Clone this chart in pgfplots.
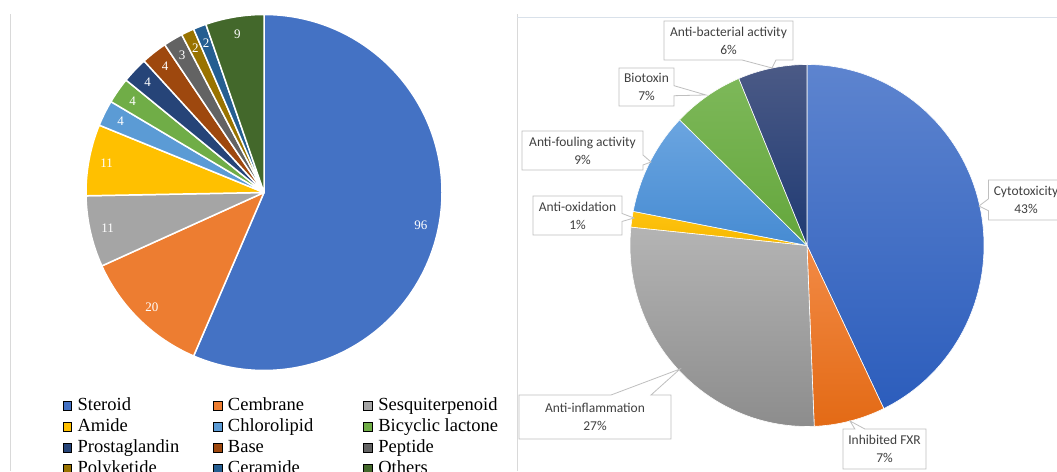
\documentclass[border=0pt]{standalone}
\usepackage{fontspec}
\setmainfont{Liberation Serif}
\newfontfamily\calibri{Carlito}
\usepackage{pgfplots}
\usepackage{pgfplotstable}
\pgfplotsset{compat=1.18}
\usetikzlibrary{shapes.callouts}

% left pie colours
\definecolor{cSteroid}{HTML}{4472C4}
\definecolor{cCembrane}{HTML}{ED7D31}
\definecolor{cSesq}{HTML}{A5A5A5}
\definecolor{cAmide}{HTML}{FFC000}
\definecolor{cChloro}{HTML}{5B9BD5}
\definecolor{cBicyc}{HTML}{70AD47}
\definecolor{cProst}{HTML}{264478}
\definecolor{cBase}{HTML}{9E480E}
\definecolor{cPept}{HTML}{636363}
\definecolor{cPoly}{HTML}{997300}
\definecolor{cCeram}{HTML}{255E91}
\definecolor{cOthers}{HTML}{43682B}
% right pie gradient colours
\definecolor{cytT}{HTML}{5D84CF}\definecolor{cytB}{HTML}{2C5DBC}
\definecolor{fxrT}{HTML}{F28A45}\definecolor{fxrB}{HTML}{E36A15}
\definecolor{infT}{HTML}{B4B4B4}\definecolor{infB}{HTML}{8C8C8C}
\definecolor{oxiT}{HTML}{FFC310}\definecolor{oxiB}{HTML}{F5B800}
\definecolor{fouT}{HTML}{6BA5E0}\definecolor{fouB}{HTML}{468BD2}
\definecolor{bioT}{HTML}{7DB859}\definecolor{bioB}{HTML}{64A63C}
\definecolor{bacT}{HTML}{4B5A86}\definecolor{bacB}{HTML}{1F3A73}
\definecolor{frameGray}{HTML}{D9D9D9}
\definecolor{frameBlue}{HTML}{D9E1EA}
\definecolor{lblgray}{HTML}{BFBFBF}
\definecolor{lbltext}{HTML}{404040}

\pgfplotstableread{
name value color
Steroid 96 cSteroid
Cembrane 20 cCembrane
Sesquiterpenoid 11 cSesq
Amide 11 cAmide
Chlorolipid 4 cChloro
{Bicyclic lactone} 4 cBicyc
Prostaglandin 4 cProst
Base 4 cBase
Peptide 3 cPept
Polyketide 2 cPoly
Ceramide 2 cCeram
Others 9 cOthers
}\leftdata

\pgfplotstableread{
name value top bottom
Cytotoxicity 42.9 cytT cytB
{Inhibited FXR} 6.5 fxrT fxrB
Anti-inflammation 27.3 infT infB
Anti-oxidation 1.4 oxiT oxiB
{Anti-fouling activity} 9.2 fouT fouB
Biotoxin 6.5 bioT bioB
{Anti-bacterial activity} 6.3 bacT bacB
}\rightdata

\pgfplotsset{sqlegend/.style={legend image code/.code={\fill[##1] (0pt,-4pt) rectangle (8.5pt,4.5pt);}}}
\tikzset{callbox/.style={rectangle callout, draw=lblgray, line width=0.8pt, fill=white,
  inner sep=0pt, align=center, text=lbltext, font=\calibri\fontsize{13.5}{18}\selectfont}}

\newcommand\pietotal[1]{%
  \pgfplotstablegetrowsof{#1}\pgfmathtruncatemacro\nrows{\pgfplotsretval-1}%
  \gdef\pietot{0}%
  \foreach \i in {0,...,\nrows}{%
    \pgfplotstablegetelem{\i}{value}\of#1%
    \pgfmathsetmacro\tmp{\pietot+\pgfplotsretval}\xdef\pietot{\tmp}}%
  \gdef\piecum{0}%
}

\begin{document}
\begin{tikzpicture}
\path[use as bounding box] (0,0) rectangle (1057pt,471pt);
\clip (0,0) rectangle (1057pt,471pt);
\draw[frameGray, line width=1pt] (10pt,0) -- (10pt,457pt);
\draw[frameGray, line width=1pt] (517pt,0) -- (517pt,457pt);
\draw[frameBlue, line width=1pt] (517pt,453pt) -- (1057pt,453pt);

% ---------------- left pie ----------------
\begin{axis}[at={(264pt,278.5pt)}, anchor=center, x=178pt, y=178pt,
  xmin=-1, xmax=1, ymin=-1, ymax=1, hide axis, clip=false,
  legend columns=3, legend cell align=left,
  legend style={at={(-0.0655,-0.0744)}, anchor=north west, draw=none, fill=none,
    inner sep=0pt, outer sep=0pt, font=\fontsize{18.5}{21}\selectfont,
    column sep=0pt, row sep=3pt,
    nodes={inner sep=0pt, text height=14pt, text depth=4pt},
    /tikz/every odd column/.append style={column sep=6pt}}]
\pgfplotsextra{%
  \pietotal{\leftdata}%
  \foreach \i in {0,...,\nrows}{%
    \pgfplotstablegetelem{\i}{value}\of\leftdata \let\sV\pgfplotsretval
    \pgfplotstablegetelem{\i}{color}\of\leftdata \let\sC\pgfplotsretval
    \pgfmathsetmacro\fA{\piecum/\pietot}%
    \pgfmathsetmacro\fB{(\piecum+\sV)/\pietot}%
    \pgfmathsetmacro\sA{90-360*\fA}%
    \pgfmathsetmacro\sB{90-360*\fB}%
    \pgfmathsetmacro\sM{(\sA+\sB)/2}%
    \pgfmathsetmacro\xA{cos(\sA)}\pgfmathsetmacro\yA{sin(\sA)}%
    \pgfmathsetmacro\xM{0.9*cos(\sM)}\pgfmathsetmacro\yM{0.9*sin(\sM)}%
    \filldraw[fill=\sC, draw=white, line width=1.5pt, line join=round]
      (axis cs:0,0) -- (axis cs:\xA,\yA) arc[start angle=\sA, end angle=\sB, radius=178pt] -- cycle;
    \node[text=white, font=\fontsize{13}{13}\selectfont] at (axis cs:\xM,\yM) {\sV};
    \pgfmathsetmacro\tmp{\piecum+\sV}\xdef\piecum{\tmp}%
  }%
}
\addlegendimage{sqlegend, fill=cSteroid}\addlegendentry{\makebox[135.5pt][l]{Steroid}}
\addlegendimage{sqlegend, fill=cCembrane}\addlegendentry{\makebox[135.5pt][l]{Cembrane}}
\addlegendimage{sqlegend, fill=cSesq}\addlegendentry{\makebox[135.5pt][l]{Sesquiterpenoid}}
\addlegendimage{sqlegend, fill=cAmide}\addlegendentry{\makebox[135.5pt][l]{Amide}}
\addlegendimage{sqlegend, fill=cChloro}\addlegendentry{\makebox[135.5pt][l]{Chlorolipid}}
\addlegendimage{sqlegend, fill=cBicyc}\addlegendentry{\makebox[135.5pt][l]{Bicyclic lactone}}
\addlegendimage{sqlegend, fill=cProst}\addlegendentry{\makebox[135.5pt][l]{Prostaglandin}}
\addlegendimage{sqlegend, fill=cBase}\addlegendentry{\makebox[135.5pt][l]{Base}}
\addlegendimage{sqlegend, fill=cPept}\addlegendentry{\makebox[135.5pt][l]{Peptide}}
\addlegendimage{sqlegend, fill=cPoly}\addlegendentry{\makebox[135.5pt][l]{Polyketide}}
\addlegendimage{sqlegend, fill=cCeram}\addlegendentry{\makebox[135.5pt][l]{Ceramide}}
\addlegendimage{sqlegend, fill=cOthers}\addlegendentry{\makebox[135.5pt][l]{Others}}
\end{axis}

% ---------------- right pie ----------------
\begin{axis}[at={(807pt,225.5pt)}, anchor=center, x=177pt, y=181pt,
  xmin=-1, xmax=1, ymin=-1, ymax=1, hide axis, clip=false]
\pgfplotsextra{%
  \pietotal{\rightdata}%
  \foreach \i in {0,...,\nrows}{%
    \pgfplotstablegetelem{\i}{value}\of\rightdata \let\sV\pgfplotsretval
    \pgfplotstablegetelem{\i}{top}\of\rightdata \let\sT\pgfplotsretval
    \pgfplotstablegetelem{\i}{bottom}\of\rightdata \let\sBt\pgfplotsretval
    \pgfmathsetmacro\fA{\piecum/\pietot}%
    \pgfmathsetmacro\fB{(\piecum+\sV)/\pietot}%
    \pgfmathsetmacro\sA{90-360*\fA}%
    \pgfmathsetmacro\sB{90-360*\fB}%
    \pgfmathsetmacro\xA{cos(\sA)}\pgfmathsetmacro\yA{sin(\sA)}%
    \shadedraw[top color=\sT, bottom color=\sBt, draw=white, line width=0.6pt, line join=round]
      (axis cs:0,0) -- (axis cs:\xA,\yA) arc[start angle=\sA, end angle=\sB, x radius=177pt, y radius=181pt] -- cycle;
    \pgfmathsetmacro\tmp{\piecum+\sV}\xdef\piecum{\tmp}%
  }%
}
\node[callbox, callout absolute pointer={(axis cs:0.9718,0.2182)}, callout pointer width=12pt,
  minimum width=75pt, minimum height=40pt] at (axis cs:1.2373,0.2514) {Cytotoxicity\\43\%};
\node[callbox, callout absolute pointer={(axis cs:0.2429,-0.9696)}, callout pointer width=10pt,
  minimum width=83pt, minimum height=40pt] at (axis cs:0.4379,-1.1243) {Inhibited FXR\\7\%};
\node[callbox, callout absolute pointer={(axis cs:-0.7175,-0.6823)}, callout pointer width=40pt,
  minimum width=152pt, minimum height=44pt] at (axis cs:-1.1977,-0.9475) {Anti-inflammation\\27\%};
\node[callbox, callout absolute pointer={(axis cs:-0.9774,0.1519)}, callout pointer width=8pt,
  minimum width=89pt, minimum height=39pt] at (axis cs:-1.2966,0.1657) {Anti-oxidation\\1\%};
\node[callbox, callout absolute pointer={(axis cs:-0.8814,0.4613)}, callout pointer width=10pt,
  minimum width=121pt, minimum height=39pt] at (axis cs:-1.2684,0.5249) {Anti-fouling activity\\9\%};
\node[callbox, callout absolute pointer={(axis cs:-0.5706,0.8315)}, callout pointer width=10pt,
  minimum width=55pt, minimum height=38pt] at (axis cs:-0.9068,0.8757) {Biotoxin\\7\%};
\node[callbox, callout absolute pointer={(axis cs:-0.1977,0.9807)}, callout pointer width=34pt,
  minimum width=129pt, minimum height=39pt] at (axis cs:-0.4435,1.1326) {Anti-bacterial activity\\6\%};
\end{axis}
\end{tikzpicture}
\end{document}
